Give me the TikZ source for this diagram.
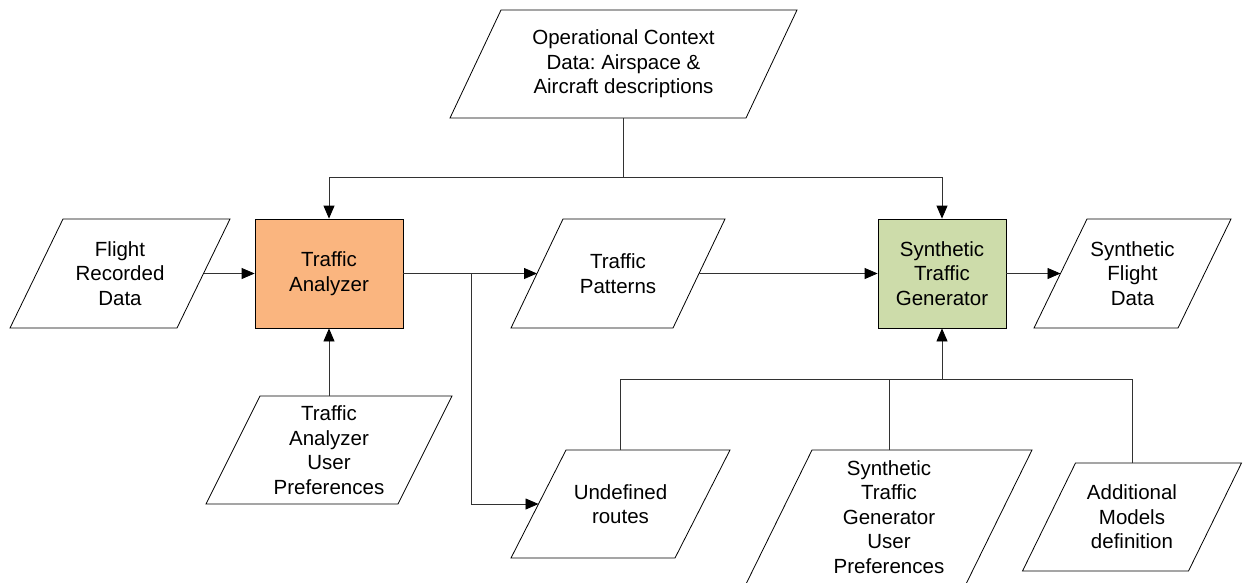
\documentclass[tikz,border=0pt]{standalone}
\usepackage{fontspec}
\setmainfont{Liberation Sans}
\usetikzlibrary{arrows.meta}
\frenchspacing
\definecolor{taorange}{RGB}{250,181,127}
\definecolor{stggreen}{RGB}{205,220,170}
\definecolor{linegray}{RGB}{50,50,50}
\newcommand\paral[7]{%
  \draw[databox] ({#2-#4/2-#6/2},{#3+#5/2}) -- ++(#4,0) -- ++(#6,{-#5}) -- ++({-#4},0) -- cycle;
  \node[txt] (#1) at (#2,#3) {#7};
  \coordinate (#1-n) at (#2,{#3-#5/2});
  \coordinate (#1-s) at (#2,{#3+#5/2});
  \coordinate (#1-w) at ({#2-#4/2},#3);
  \coordinate (#1-e) at ({#2+#4/2},#3);
}
\begin{document}
\begin{tikzpicture}[x=1pt,y=-1pt,
  txt/.style={font=\fontsize{20.5}{24.5}\selectfont, align=center, inner sep=0pt},
  databox/.style={draw=black, line width=0.8pt, fill=white},
  procbox/.style={draw=black, line width=0.8pt, minimum height=109pt, inner sep=0pt,
    align=center, font=\fontsize{20.5}{24.5}\selectfont},
  conn/.style={draw=linegray, line width=0.8pt},
  arr/.style={conn, -{Triangle[length=13pt,width=11pt,fill=black,color=black]}}]
\useasboundingbox (0,0) rectangle (1244,582);
\fill[white] (0,0) rectangle (1244,582);

% data (parallelogram) boxes
\paral{opc}{623.5}{64}{296}{108}{51}{Operational Context\\Data: Airspace \&\\Aircraft descriptions}
\paral{frd}{120}{273.5}{167}{109}{53}{Flight\\Recorded\\Data}
\paral{tpat}{618}{273.5}{162}{109}{52}{Traffic\\Patterns}
\paral{sfd}{1132.5}{273.5}{144}{109}{53}{Synthetic\\Flight\\Data}
\paral{taup}{329}{450}{192}{108}{54}{Traffic\\Analyzer\\User\\Preferences}
\paral{ur}{620.5}{504}{164}{108}{55}{Undefined\\routes}
\begin{scope}
  \clip (0,0) rectangle (1244,582);
  \paral{stgup}{889}{517}{220}{134}{66}{Synthetic\\Traffic\\Generator\\User\\Preferences}
\end{scope}
\paral{amd}{1132}{517}{166}{108}{53}{Additional\\Models\\definition}

% process boxes
\node[procbox, fill=taorange, minimum width=148pt] (ta) at (329,273.5) {Traffic\\Analyzer};
\node[procbox, fill=stggreen, minimum width=128pt] (stg) at (942,273.5) {Synthetic\\Traffic\\Generator};

% connectors
\coordinate (j1) at (623.5,177);
\draw[conn] (opc-s) -- (j1);
\draw[arr] (j1) -| (ta.north);
\draw[arr] (j1) -| (stg.north);

\draw[arr] (frd-e) -- (ta.west);
\draw[arr] (ta.east) -- (tpat-w);
\coordinate (j3) at (471,273.5);
\draw[arr] (j3) |- (ur-w);
\draw[arr] (tpat-e) -- (stg.west);
\draw[arr] (stg.east) -- (sfd-w);
\draw[arr] (taup-n) -- (ta.south);

\coordinate (j2) at (942,379);
\draw[conn] (ur-n) |- (j2);
\draw[conn] (stgup-n) |- (j2);
\draw[conn] (amd-n) |- (j2);
\draw[arr] (j2) -- (stg.south);
\end{tikzpicture}
\end{document}
